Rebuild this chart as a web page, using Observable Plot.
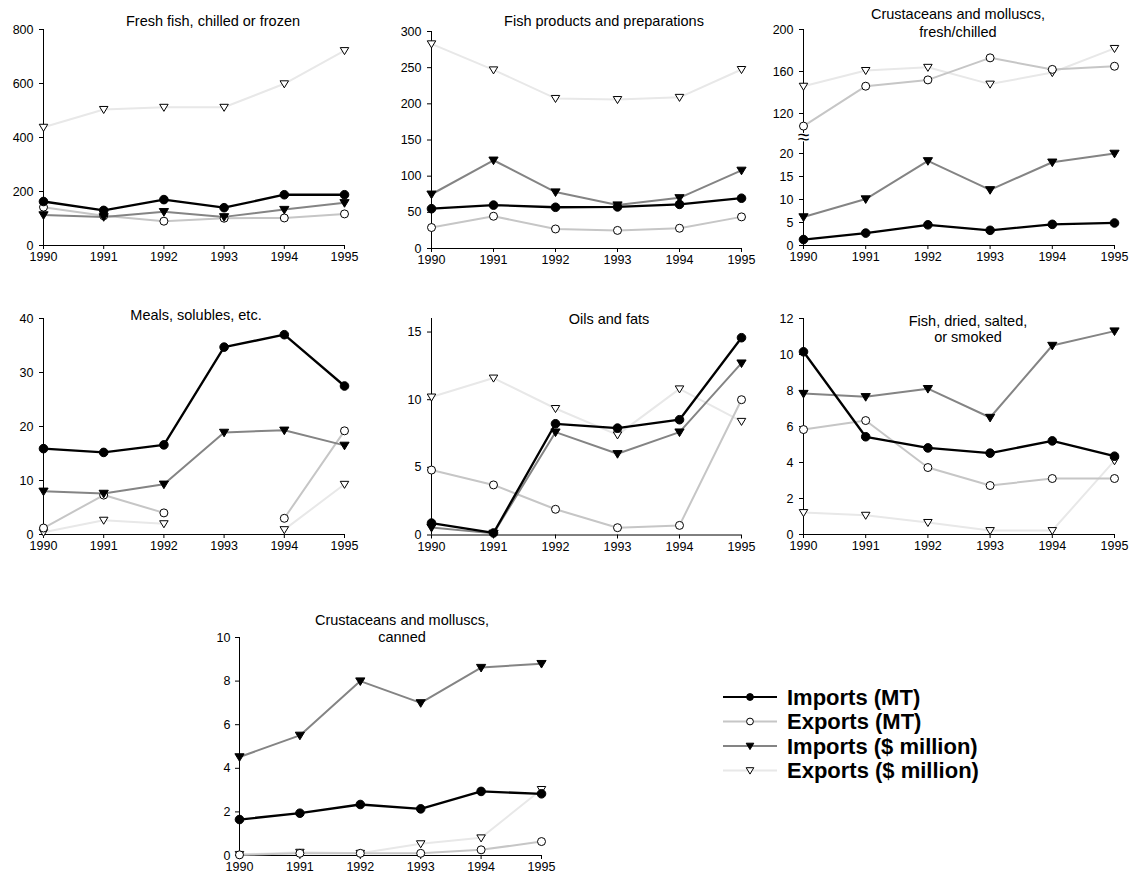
<!DOCTYPE html>
<html><head><meta charset="utf-8">
<script src="https://cdn.jsdelivr.net/npm/d3@7"></script>
<script src="https://cdn.jsdelivr.net/npm/@observablehq/plot@0.6"></script>
<style>
body{margin:0;background:#fff;font-family:"Liberation Sans",Arial,sans-serif;}
#page{position:relative;width:1129px;height:882px;overflow:hidden;background:#fff;}
.title{position:absolute;width:340px;text-align:center;font-size:14.5px;color:#000;white-space:nowrap;}
</style></head><body><div id="page"></div>
<script>
// ---------- data ----------
const years = [1990, 1991, 1992, 1993, 1994, 1995];
const seriesNames = ["Imports (MT)", "Exports (MT)", "Imports ($ million)", "Exports ($ million)"];

const freshImportsMT   = [163, 130, 170, 140, 188, 188];
const freshExportsMT   = [142, 110, 90, 101, 102, 117];
const freshImportsUSD  = [113, 106, 125, 106, 133, 158];
const freshExportsUSD  = [438, 504, 512, 512, 599, 722];

const prodImportsMT    = [55, 60, 57, 57.5, 61, 69.5];
const prodExportsMT    = [29, 44.6, 27, 25, 28, 43.7];
const prodImportsUSD   = [75, 122, 78, 60, 70, 108];
const prodExportsUSD   = [283, 247, 207.5, 206, 209, 247.5];

const crustImportsMT   = [1.3, 2.7, 4.5, 3.3, 4.6, 4.9];
const crustExportsMT   = [108, 146, 152, 173, 162, 165];
const crustImportsUSD  = [6.2, 10.1, 18.4, 12.1, 18.1, 20.3];
const crustExportsUSD  = [146, 161, 164, 148, 159, 182];

const mealsImportsMT   = [15.9, 15.2, 16.6, 34.7, 37.0, 27.5];
const mealsExportsMT   = [1.2, 7.3, 4.0, null, 3.0, 19.2];
const mealsImportsUSD  = [8.0, 7.6, 9.3, 18.9, 19.3, 16.5];
const mealsExportsUSD  = [0.4, 2.65, 2.0, null, 0.9, 9.3];

const oilsImportsMT    = [0.88, 0.15, 8.22, 7.9, 8.52, 14.58];
const oilsExportsMT    = [4.8, 3.7, 1.9, 0.54, 0.71, 10.0];
const oilsImportsUSD   = [0.55, 0.12, 7.6, 6.0, 7.6, 12.7];
const oilsExportsUSD   = [10.2, 11.6, 9.35, 7.4, 10.8, 8.4];

const driedImportsMT   = [10.15, 5.43, 4.81, 4.52, 5.2, 4.35];
const driedExportsMT   = [5.83, 6.33, 3.72, 2.72, 3.11, 3.11];
const driedImportsUSD  = [7.83, 7.65, 8.1, 6.5, 10.5, 11.3];
const driedExportsUSD  = [1.22, 1.07, 0.67, 0.22, 0.22, 4.1];

const cannedImportsMT  = [1.65, 1.94, 2.34, 2.14, 2.94, 2.83];
const cannedExportsMT  = [0.03, 0.1, 0.1, 0.1, 0.26, 0.64];
const cannedImportsUSD = [4.52, 5.51, 8.0, 7.0, 8.62, 8.8];
const cannedExportsUSD = [0.05, 0.15, 0.1, 0.54, 0.81, 3.03];

const titles = {
  fresh: ["Fresh fish, chilled or frozen"],
  prod: ["Fish products and preparations"],
  crust: ["Crustaceans and molluscs,", "fresh/chilled"],
  meals: ["Meals, solubles, etc."],
  oils: ["Oils and fats"],
  dried: ["Fish, dried, salted,", "or smoked"],
  canned: ["Crustaceans and molluscs,", "canned"]
};
const yTicks = {
  fresh: [0, 200, 400, 600, 800],
  prod: [0, 50, 100, 150, 200, 250, 300],
  crust: [0, 5, 10, 15, 20, 120, 160, 200],
  meals: [0, 10, 20, 30, 40],
  oils: [0, 5, 10, 15],
  dried: [0, 2, 4, 6, 8, 10, 12],
  canned: [0, 2, 4, 6, 8, 10]
};

// broken axis for the crustaceans fresh/chilled panel: 0–20 stretched, 20–100 squeezed, 100–200 normal
function brk(v) {
  if (v == null) return v;
  if (v <= 20) return v * 4.6;
  if (v <= 100) return 92 + (v - 20) * (19 / 80);
  return 111 + (v - 100) * 1.05;
}

// ---------- styles ----------
const triDown = {
  draw(ctx, size) {
    const r = Math.sqrt(size / Math.PI);
    const w = r * 1.15, h = r;
    ctx.moveTo(-w, -h * 0.8);
    ctx.lineTo(w, -h * 0.8);
    ctx.lineTo(0, h * 1.1);
    ctx.closePath();
  }
};
const sty = {
  "Imports (MT)":        {line: "#000000", width: 2.3, symbol: "circle", fill: "#000", stroke: "#000", r: 4.3},
  "Exports (MT)":        {line: "#c6c6c6", width: 2,   symbol: "circle", fill: "#fff", stroke: "#000", r: 4},
  "Imports ($ million)": {line: "#848484", width: 2,   symbol: triDown,  fill: "#000", stroke: "#000", r: 4},
  "Exports ($ million)": {line: "#e8e8e8", width: 2,   symbol: triDown,  fill: "#fff", stroke: "#000", r: 3.7}
};
const drawOrder = ["Exports ($ million)", "Exports (MT)", "Imports ($ million)", "Imports (MT)"];

function rowsFor(arrs, f = v => v) {
  return years.flatMap((yr, i) => seriesNames.map((s, k) => ({year: yr, series: s, value: f(arrs[k][i])})));
}

const page = document.getElementById("page");

function panel(cfg) {
  const {data, ax, ax1, yTop, y0, domain, ticks, tickLabels, tickPadding = 6, extra = []} = cfg;
  const mL = 50, mR = 24, mT = 12, mB = 30;
  const left = ax - mL, top = yTop - mT;
  const width = ax1 - ax + mL + mR, height = y0 - yTop + mT + mB;
  const marks = [
    Plot.ruleX([1990], {stroke: "#000", strokeWidth: 1}),
    Plot.ruleY([domain[0]], {stroke: "#000", strokeWidth: 1}),
    ...extra,
    Plot.axisY({ticks, tickSize: 4, tickPadding, fontSize: 12.5,
      tickFormat: tickLabels ? (d, i) => String(tickLabels[i]) : d => String(d), label: null}),
    Plot.axisX({ticks: years, tickSize: 4, tickPadding: 3, fontSize: 12.5, tickFormat: d => String(d), label: null})
  ];
  for (const s of drawOrder) {
    marks.push(Plot.line(data.filter(d => d.series === s), {x: "year", y: "value", stroke: sty[s].line, strokeWidth: sty[s].width}));
  }
  for (const s of drawOrder) {
    marks.push(Plot.dot(data.filter(d => d.series === s && d.value != null), {x: "year", y: "value", symbol: sty[s].symbol, r: sty[s].r, fill: sty[s].fill, stroke: sty[s].stroke, strokeWidth: 1}));
  }
  const svg = Plot.plot({
    width, height, marginLeft: mL, marginRight: mR, marginTop: mT, marginBottom: mB,
    x: {domain: [1990, 1995], range: [mL, width - mR]},
    y: {domain, range: [y0 - top, yTop - top]},
    style: {fontFamily: '"Liberation Sans", Arial, sans-serif', fontSize: "12.5px", color: "#000", background: "transparent", overflow: "visible"},
    marks
  });
  svg.style.position = "absolute";
  svg.style.left = left + "px";
  svg.style.top = top + "px";
  svg.style.maxWidth = "none";
  page.appendChild(svg);
}

function title(lines, cx, cy, lh) {
  const d = document.createElement("div");
  d.className = "title";
  d.style.left = (cx - 170) + "px";
  d.style.top = (cy - lh / 2) + "px";
  d.style.lineHeight = lh + "px";
  d.innerHTML = lines.join("<br>");
  page.appendChild(d);
}

// ---------- panels ----------
panel({data: rowsFor([freshImportsMT, freshExportsMT, freshImportsUSD, freshExportsUSD]), ax: 43, ax1: 344, yTop: 29, y0: 245, domain: [0, 800], ticks: yTicks.fresh});
panel({data: rowsFor([prodImportsMT, prodExportsMT, prodImportsUSD, prodExportsUSD]), ax: 431, ax1: 741, yTop: 31, y0: 248, domain: [0, 300], ticks: yTicks.prod});
panel({data: rowsFor([crustImportsMT, crustExportsMT, crustImportsUSD, crustExportsUSD], brk), ax: 803, ax1: 1114, yTop: 29, y0: 245,
  domain: [0, brk(200)], ticks: yTicks.crust.map(brk), tickLabels: yTicks.crust,
  extra: [Plot.text([brk(90)], {x: () => 1990, y: d => d, text: () => "\u2248", fontSize: 21, fill: "#000", stroke: "#fff", strokeWidth: 2.5, paintOrder: "stroke"})]});
panel({data: rowsFor([mealsImportsMT, mealsExportsMT, mealsImportsUSD, mealsExportsUSD]), ax: 43, ax1: 344, yTop: 318, y0: 534, domain: [0, 40], ticks: yTicks.meals});
panel({data: rowsFor([oilsImportsMT, oilsExportsMT, oilsImportsUSD, oilsExportsUSD]), ax: 431, ax1: 741, yTop: 317.5, y0: 534, domain: [0, 16], ticks: yTicks.oils});
panel({data: rowsFor([driedImportsMT, driedExportsMT, driedImportsUSD, driedExportsUSD]), ax: 803, ax1: 1114, yTop: 318, y0: 534, domain: [0, 12], ticks: yTicks.dried});
panel({data: rowsFor([cannedImportsMT, cannedExportsMT, cannedImportsUSD, cannedExportsUSD]), ax: 239, ax1: 541, yTop: 637, y0: 855, domain: [0, 10], ticks: yTicks.canned, tickPadding: 5});

title(titles.fresh, 213, 21, 17);
title(titles.prod, 604, 21, 17);
title(titles.crust, 958, 14, 18);
title(titles.meals, 196, 315, 17);
title(titles.oils, 609, 319, 17);
title(titles.dried, 968, 321, 16);
title(titles.canned, 402, 620, 17);

// ---------- legend ----------
(function legend() {
  const ns = "http://www.w3.org/2000/svg";
  const svg = document.createElementNS(ns, "svg");
  svg.setAttribute("width", 330); svg.setAttribute("height", 120);
  svg.style.position = "absolute"; svg.style.left = "710px"; svg.style.top = "680px";
  const rowY = [17, 41.5, 66, 90.5];
  seriesNames.forEach((s, i) => {
    const y = rowY[i];
    const l = document.createElementNS(ns, "line");
    l.setAttribute("x1", 13); l.setAttribute("x2", 67); l.setAttribute("y1", y); l.setAttribute("y2", y);
    l.setAttribute("stroke", sty[s].line); l.setAttribute("stroke-width", 2);
    svg.appendChild(l);
    let m;
    if (sty[s].symbol === "circle") {
      m = document.createElementNS(ns, "circle");
      m.setAttribute("cx", 40); m.setAttribute("cy", y); m.setAttribute("r", 3.4);
    } else {
      m = document.createElementNS(ns, "path");
      m.setAttribute("d", `M${40 - 3.8},${y - 2.8}L${40 + 3.8},${y - 2.8}L40,${y + 3.6}Z`);
    }
    m.setAttribute("fill", sty[s].fill); m.setAttribute("stroke", "#000"); m.setAttribute("stroke-width", 1);
    svg.appendChild(m);
    const t = document.createElementNS(ns, "text");
    t.setAttribute("x", 77); t.setAttribute("y", y); t.setAttribute("dy", "0.36em");
    t.setAttribute("font-family", '"Liberation Sans", Arial, sans-serif');
    t.setAttribute("font-size", 22); t.setAttribute("font-weight", "bold");
    t.textContent = s;
    svg.appendChild(t);
  });
  page.appendChild(svg);
})();
</script></body></html>
